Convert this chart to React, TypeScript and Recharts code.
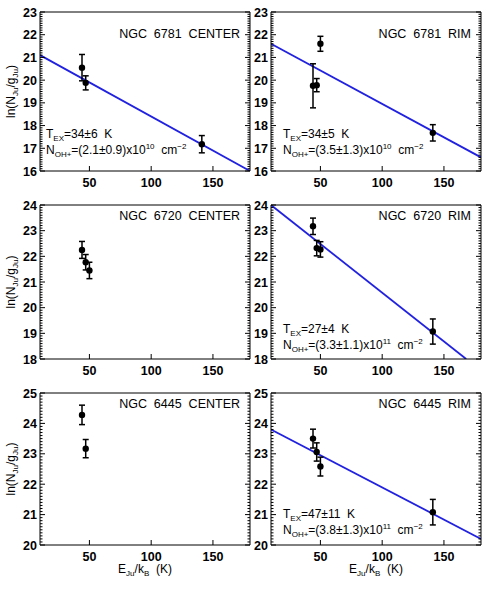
import React from "react";
import { ComposedChart, Scatter, Line, XAxis, YAxis, ErrorBar } from "recharts";

const FONT = "'Liberation Sans', Arial, Helvetica, sans-serif";
const BLUE = "#2121e0";

// E_Ju/k_B (K), ln(N_Ju/g_Ju) and 1-sigma errors
const ngc6781cX = [44, 47, 141];
const ngc6781cY = [20.55, 19.88, 17.18];
const ngc6781cErr = [0.58, 0.31, 0.38];
const ngc6781rX = [44, 47, 50, 141];
const ngc6781rY = [19.75, 19.78, 21.6, 17.68];
const ngc6781rErr = [0.97, 0.29, 0.33, 0.36];
const ngc6720cX = [44, 47, 50];
const ngc6720cY = [22.25, 21.77, 21.45];
const ngc6720cErr = [0.33, 0.3, 0.32];
const ngc6720rX = [44, 47, 50, 141];
const ngc6720rY = [23.17, 22.32, 22.27, 19.07];
const ngc6720rErr = [0.32, 0.3, 0.3, 0.49];
const ngc6445cX = [44, 47];
const ngc6445cY = [24.28, 23.17];
const ngc6445cErr = [0.32, 0.3];
const ngc6445rX = [44, 47, 50, 141];
const ngc6445rY = [23.5, 23.06, 22.58, 21.08];
const ngc6445rErr = [0.31, 0.3, 0.31, 0.42];

// rotational-diagram fits (end points at the plot edges)
const fit6781cX = [10, 180];
const fit6781cY = [21.1, 16.0];
const fit6781rX = [10, 180];
const fit6781rY = [21.6, 16.6];
const fit6720rX = [10, 168];
const fit6720rY = [24.0, 18.0];
const fit6445rX = [10, 180];
const fit6445rY = [23.8, 20.2];

const X_DOMAIN: [number, number] = [10, 180];
const X_MAJOR = [50, 100, 150];
const X_MINOR = [20, 30, 40, 60, 70, 80, 90, 110, 120, 130, 140, 160, 170];

const Y_6781: [number, number] = [16, 23];
const Y_6720: [number, number] = [18, 24];
const Y_6445: [number, number] = [20, 25];

// layout
const COL_X = [40, 271];
const PW = 210;
const ML = 42; // room for y tick labels inside each chart
const MT = 12;
const ROWS = [
  { top: 12, h: 159 },
  { top: 205, h: 154 },
  { top: 393, h: 152 },
];

type PanelData = {
  x: number[];
  y: number[];
  err: number[];
  fx?: number[];
  fy?: number[];
  yDomain: [number, number];
};

const dot = (p: any) => <circle cx={p.cx} cy={p.cy} r={3.2} fill="#000" />;
const noLabel = () => <g />;
const THIN = 0.01;

function Panel({ left, top, h, d }: { left: number; top: number; h: number; d: PanelData }) {
  const pts = d.x.map((x, i) => ({ x, y: d.y[i], err: d.err[i] }));
  const fit = d.fx ? d.fx.map((x, i) => ({ x, y: d.fy![i] })) : [];
  const [y0, y1] = d.yDomain;
  const yMajor: number[] = [];
  for (let v = y0; v <= y1; v++) yMajor.push(v);
  const yMinor: number[] = [];
  for (let i = y0 * 10; i <= y1 * 10; i++) if (i % 10) yMinor.push(i / 10);
  const ax = { stroke: "#000", strokeWidth: 1 };
  const xa = { type: "number" as const, domain: X_DOMAIN, allowDataOverflow: true, interval: 0 as const, tickMargin: 0 };
  const ya = { type: "number" as const, domain: d.yDomain, allowDataOverflow: true, interval: 0 as const, tickMargin: 0 };
  const xLabel = (p: any) => (
    <text x={p.x} y={MT + h + 16} textAnchor="middle" fontSize={12.5} fontWeight="bold" fontFamily={FONT} fill="#000">
      {p.payload.value}
    </text>
  );
  const yLabel = (p: any) => (
    <text x={ML - 3} y={p.y + 4.5} textAnchor="end" fontSize={12.5} fontWeight="bold" fontFamily={FONT} fill="#000">
      {p.payload.value}
    </text>
  );
  return (
    <div style={{ position: "absolute", left: left - ML, top: top - MT }}>
      <ComposedChart width={ML + PW + 12} height={MT + h + 22} margin={{ top: MT, right: 12, left: ML, bottom: 22 }}>
        {/* box with inward ticks on all four sides, IDL style */}
        <XAxis xAxisId="b" dataKey="x" {...xa} ticks={X_MAJOR} orientation="bottom" mirror height={THIN} tick={xLabel} tickSize={5} tickLine={ax} axisLine={ax} />
        <XAxis xAxisId="bm" {...xa} ticks={X_MINOR} orientation="bottom" mirror height={THIN} tick={noLabel} tickSize={2.5} tickLine={ax} axisLine={false} />
        <XAxis xAxisId="t" {...xa} ticks={X_MAJOR} orientation="top" mirror height={THIN} tick={noLabel} tickSize={5} tickLine={ax} axisLine={ax} />
        <XAxis xAxisId="tm" {...xa} ticks={X_MINOR} orientation="top" mirror height={THIN} tick={noLabel} tickSize={2.5} tickLine={ax} axisLine={false} />
        <YAxis yAxisId="l" dataKey="y" {...ya} ticks={yMajor} orientation="left" mirror width={THIN} tick={yLabel} tickSize={5} tickLine={ax} axisLine={ax} />
        <YAxis yAxisId="lm" {...ya} ticks={yMinor} orientation="left" mirror width={THIN} tick={noLabel} tickSize={2.5} tickLine={ax} axisLine={false} />
        <YAxis yAxisId="r" {...ya} ticks={yMajor} orientation="right" mirror width={THIN} tick={noLabel} tickSize={5} tickLine={ax} axisLine={ax} />
        <YAxis yAxisId="rm" {...ya} ticks={yMinor} orientation="right" mirror width={THIN} tick={noLabel} tickSize={2.5} tickLine={ax} axisLine={false} />
        {fit.length > 0 && (
          <Line xAxisId="b" yAxisId="l" data={fit} dataKey="y" stroke={BLUE} strokeWidth={1.8} dot={false} isAnimationActive={false} />
        )}
        <Scatter xAxisId="b" yAxisId="l" data={pts} fill="#000" shape={dot} isAnimationActive={false}>
          <ErrorBar dataKey="err" direction="y" width={3} stroke="#000" strokeWidth={1.5} />
        </Scatter>
      </ComposedChart>
    </div>
  );
}

function Notes({ x, yT, yN, t, n, e }: { x: number; yT: number; yN: number; t: string; n: string; e: string }) {
  return (
    <>
      <text x={x} y={yT} fontSize={12} style={{ whiteSpace: "pre" }}>
        T<tspan fontSize={8} dy={3}>EX</tspan>
        <tspan dy={-3}>{"=" + t + "  K"}</tspan>
      </text>
      <text x={x} y={yN} fontSize={12} style={{ whiteSpace: "pre" }}>
        N<tspan fontSize={8} dy={3}>OH+</tspan>
        <tspan dy={-3}>{"=(" + n + ")x10"}</tspan>
        <tspan fontSize={8} dy={-5}>{e}</tspan>
        <tspan dy={5}>{"  cm"}</tspan>
        <tspan fontSize={8} dy={-5}>{"\u22122"}</tspan>
      </text>
    </>
  );
}

export default function App() {
  const panels: PanelData[] = [
    { x: ngc6781cX, y: ngc6781cY, err: ngc6781cErr, fx: fit6781cX, fy: fit6781cY, yDomain: Y_6781 },
    { x: ngc6781rX, y: ngc6781rY, err: ngc6781rErr, fx: fit6781rX, fy: fit6781rY, yDomain: Y_6781 },
    { x: ngc6720cX, y: ngc6720cY, err: ngc6720cErr, yDomain: Y_6720 },
    { x: ngc6720rX, y: ngc6720rY, err: ngc6720rErr, fx: fit6720rX, fy: fit6720rY, yDomain: Y_6720 },
    { x: ngc6445cX, y: ngc6445cY, err: ngc6445cErr, yDomain: Y_6445 },
    { x: ngc6445rX, y: ngc6445rY, err: ngc6445rErr, fx: fit6445rX, fy: fit6445rY, yDomain: Y_6445 },
  ];
  const titles = ["NGC  6781  CENTER", "NGC  6781  RIM", "NGC  6720  CENTER", "NGC  6720  RIM", "NGC  6445  CENTER", "NGC  6445  RIM"];
  const titleY = [37.5, 219.5, 407.5];

  return (
    <div style={{ position: "absolute", left: 0, top: 0, width: 491, height: 594, background: "#fff", overflow: "hidden", fontFamily: FONT }}>
      {panels.map((d, i) => {
        const r = ROWS[Math.floor(i / 2)];
        return <Panel key={i} left={COL_X[i % 2]} top={r.top} h={r.h} d={d} />;
      })}
      <svg width={491} height={594} style={{ position: "absolute", left: 0, top: 0, pointerEvents: "none" }} fontFamily={FONT} fill="#000">
        {titles.map((t, i) => (
          <text key={t} x={COL_X[i % 2] + PW - 10} y={titleY[Math.floor(i / 2)]} fontSize={12.5} textAnchor="end" style={{ whiteSpace: "pre" }}>
            {t}
          </text>
        ))}
        <Notes x={46} yT={137.5} yN={153.5} t="34±6" n="2.1±0.9" e="10" />
        <Notes x={283} yT={137.5} yN={153.5} t="34±5" n="3.5±1.3" e="10" />
        <Notes x={283} yT={333} yN={349} t="27±4" n="3.3±1.1" e="11" />
        <Notes x={283} yT={518} yN={533.5} t="47±11" n="3.8±1.3" e="11" />
        {ROWS.map((r, i) => (
          <text key={i} transform={`translate(14.5, ${r.top + r.h / 2}) rotate(-90)`} fontSize={12} textAnchor="middle">
            ln(N<tspan fontSize={8} dy={3}>Ju</tspan>
            <tspan dy={-3}>/g</tspan>
            <tspan fontSize={8} dy={3}>Ju</tspan>
            <tspan dy={-3}>)</tspan>
          </text>
        ))}
        {COL_X.map((x, i) => (
          <text key={i} x={x + PW / 2} y={573} fontSize={12} textAnchor="middle" style={{ whiteSpace: "pre" }}>
            E<tspan fontSize={8} dy={3}>Ju</tspan>
            <tspan dy={-3}>/k</tspan>
            <tspan fontSize={8} dy={3}>B</tspan>
            <tspan dy={-3}>{"  (K)"}</tspan>
          </text>
        ))}
      </svg>
    </div>
  );
}
